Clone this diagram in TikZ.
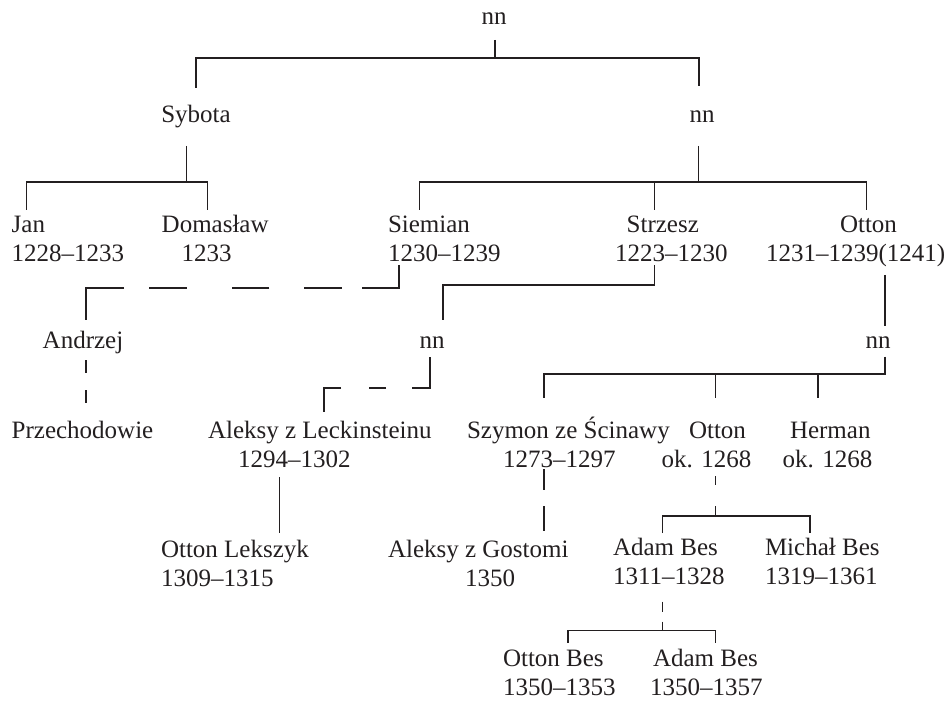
\documentclass[tikz,border=0pt]{standalone}
\usepackage{fontspec}
\setmainfont{Liberation Serif}
\definecolor{ink}{HTML}{231F20}
\tikzset{
  person/.style={inner sep=0pt, outer sep=0pt, align=left, anchor=base west, text=ink, font=\fontsize{25}{29}\selectfont},
  single/.style={inner sep=0pt, outer sep=0pt, anchor=base, text=ink, font=\fontsize{25}{29}\selectfont},
  link/.style={draw=ink, line width=1.3pt},
}
\begin{document}
\begin{tikzpicture}[x=1pt, y=-1pt]
\useasboundingbox (0,0) rectangle (950,703);
% nodes (person nodes: anchor at the baseline of their last line)
\node[single] (nn0) at (494,25) {nn};
\node[single] (syb) at (196,122.7) {Sybota};
\node[single] (nn1) at (702,122.7) {nn};
\node[person] (jan) at (11.7,261.7) {Jan\\1228–1233};
\node[person] (dom) at (161.7,261.7) {Domasław\\\hspace*{20pt}1233};
\node[person] (sie) at (388,261.7) {Siemian\\1230–1239};
\node[person] (str) at (615,261.7) {\hspace*{11.7pt}Strzesz\\1223–1230};
\node[person] (ott) at (766,261.7) {\hspace*{74pt}Otton\\1231–1239(1241)};
\node[single] (and) at (83,348) {Andrzej};
\node[single] (nn2) at (432,348) {nn};
\node[single] (nn3) at (878,348) {nn};
\node[single] (prz) at (82.5,438) {Przechodowie};
\node[person] (alek) at (208,467) {Aleksy z Leckinsteinu\\\hspace*{30pt}1294–1302};
\node[person] (szy) at (467,467) {Szymon ze Ścinawy\\\hspace*{36pt}1273–1297};
\node[person] (ot2) at (661.7,467) {\hspace*{27.3pt}Otton\\ok. 1268};
\node[person] (her) at (782.7,467) {\hspace*{7.3pt}Herman\\ok. 1268};
\node[person] (lek) at (161,586) {Otton Lekszyk\\1309–1315};
\node[person] (gos) at (388,586) {Aleksy z Gostomi\\\hspace*{77pt}1350};
\node[person] (adam) at (613,584) {Adam Bes\\1311–1328};
\node[person] (mich) at (765,584) {Michał Bes\\1319–1361};
\node[person] (obes) at (503,695) {Otton Bes\\1350–1353};
\node[person] (abes) at (650,695) {\hspace*{3pt}Adam Bes\\1350–1357};
% connectors
\draw[link] ([xshift=1pt,yshift=-15pt]nn0.base) -- ++(0,18);
\draw[link] ([yshift=34.7pt]syb.base) |- ([xshift=-3pt,yshift=64.7pt]nn1.base) -- ([xshift=-3pt,yshift=36.7pt]nn1.base);
\draw[link] ([xshift=-9.3pt,yshift=-23.3pt]syb.base) -- ++(0,36);
\draw[link] ([xshift=15pt,yshift=51.7pt]jan.base west) |- ([xshift=46pt,yshift=79.7pt]dom.base west) -- ++(0,28);
\draw[link] ([xshift=-3.3pt,yshift=-23.3pt]nn1.base) -- ++(0,36);
\draw[link] ([xshift=31.3pt,yshift=51.7pt]sie.base west) |- ([xshift=100.7pt,yshift=79.7pt]ott.base west) -- ++(0,28);
\draw[link] ([xshift=39.3pt,yshift=79.7pt]str.base west) -- ++(0,28);
\draw[link, dash pattern=on 60.3pt off 20pt on 37.7pt off 34.7pt on 37.6pt off 45pt on 37.7pt off 25pt on 80pt off 10pt]
  ([xshift=11pt,yshift=-3.3pt]sie.base west) |- ([xshift=3pt,yshift=60pt]and.base) -- ++(0,32);
\draw[link] ([xshift=39.3pt,yshift=-3.3pt]str.base west) |- ([xshift=11pt,yshift=63pt]nn2.base) -- ++(0,35);
\draw[link, dash pattern=on 49pt off 26pt on 17pt off 28pt on 50pt off 10pt]
  ([xshift=-2pt,yshift=-9pt]nn2.base) |- ([xshift=116pt,yshift=79pt]alek.base west) -- ++(0,24);
\draw[link] ([xshift=119pt,yshift=-13.3pt]ott.base west) -- ([xshift=7pt,yshift=22.3pt]nn3.base);
\draw[link] ([xshift=7pt,yshift=-8.7pt]nn3.base) |- ([xshift=77pt,yshift=93pt]szy.base west) -- ++(0,24);
\draw[link] ([xshift=54pt,yshift=93pt]ot2.base west) -- ++(0,24);
\draw[link] ([xshift=35.3pt,yshift=93pt]her.base west) -- ++(0,24);
\draw[link, dash pattern=on 13pt off 17pt on 20pt off 10pt]
  ([xshift=3pt,yshift=-12pt]and.base) -- ([xshift=3.5pt,yshift=35pt]prz.base);
\draw[link] ([xshift=71.3pt,yshift=-10pt]alek.base west) -- ([xshift=118.3pt,yshift=53pt]lek.base west);
\draw[link, dash pattern=on 21pt off 16pt on 30pt off 10pt]
  ([xshift=77pt,yshift=-2pt]szy.base west) -- ([xshift=156pt,yshift=55pt]gos.base west);
\draw[link, dash pattern=on 9pt off 21pt on 20pt off 10pt]
  ([xshift=54pt,yshift=-9pt]ot2.base west) -- ([xshift=102.7pt,yshift=68pt]adam.base west);
\draw[link] ([xshift=49.7pt,yshift=51pt]adam.base west) |- ([xshift=45pt,yshift=68pt]mich.base west) -- ++(0,17);
\draw[link, dash pattern=on 10pt off 10pt on 12pt off 10pt]
  ([xshift=49.7pt,yshift=-17.7pt]adam.base west) -- ([xshift=12.7pt,yshift=64.5pt]abes.base west);
\draw[link] ([xshift=65pt,yshift=52.5pt]obes.base west) |- ([xshift=65.7pt,yshift=64.5pt]abes.base west) -- ++(0,12);
\end{tikzpicture}
\end{document}
